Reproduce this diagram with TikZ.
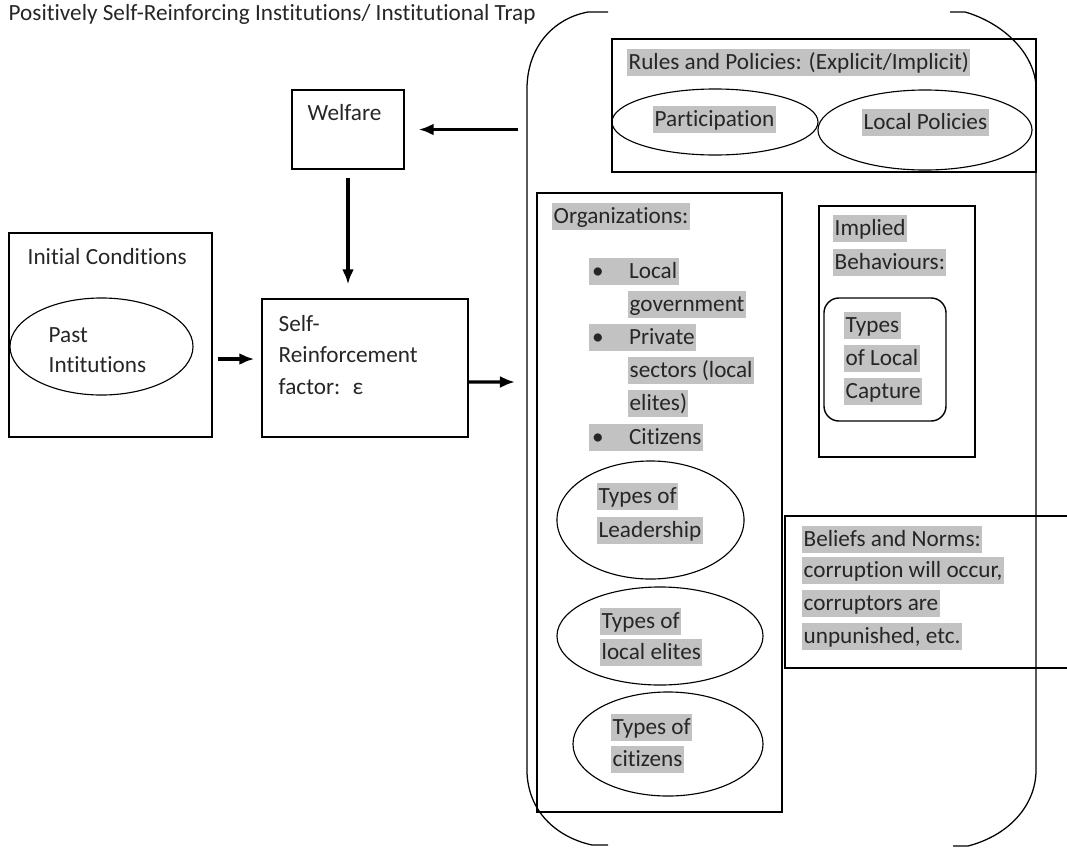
\documentclass[tikz,border=0pt]{standalone}
\usepackage{fontspec}
\setmainfont{Carlito}[Ligatures=NoCommon]
\usepackage{tikz}
\usepackage{xcolor}
\usetikzlibrary{shapes,arrows.meta,positioning,calc}

\definecolor{hlgray}{RGB}{194,194,194}
\definecolor{inkgray}{RGB}{38,38,38}

\begin{document}
\begin{tikzpicture}[
          x=0.025cm, y=-0.025cm,
          txt/.style={anchor=west, inner xsep=1pt, inner ysep=0pt, text height=14.9pt, text depth=4.3pt, text=inkgray, font=\fontsize{16.5pt}{19pt}\selectfont},
          hl/.style={txt, fill=hlgray},
          box/.style={rectangle, draw, line width=1pt, inner sep=0pt},
          oval/.style={ellipse, draw, line width=0.8pt, inner sep=0pt},
          arr/.style={-{Latex[length=0.375cm, width=0.3cm]}, line width=2.2pt}
        ]
          \useasboundingbox (0,0) rectangle (1067,850);

          \node[txt] (title) at (7,13.5) {Positively Self-Reinforcing Institutions/ Institutional Trap};

          % left side
          \node[box, minimum width=2.8cm, minimum height=1.975cm] (welfare) at (348,129.5) {};
          \node[txt] (welfT) at (306,113) {Welfare};
          \node[box, minimum width=5.075cm, minimum height=5.1cm] (init) at (110.5,335) {};
          \node[txt] (initT) at (26,257.5) {Initial Conditions};
          \node[oval, minimum width=4.575cm, minimum height=2.425cm] (past) at (101.5,346.5) {};
          \node[txt] (pastT1) at (47,335) {Past};
          \node[txt] (pastT2) at (47,365.5) {Intitutions};
          \node[box, minimum width=5.15cm, minimum height=3.45cm] (selfrf) at (365,368) {};
          \node[txt] (selfT1) at (277,324) {Self-};
          \node[txt] (selfT2) at (277,355.5) {Reinforcement};
          \node[txt] (selfT3) at (277,387.5) {factor: \ ε};

          % rules and policies
          \node[box, minimum width=10.6cm, minimum height=3.325cm] (rules) at (824,105.5) {};
          \node[hl] (rulesT) at (627,62.5) {Rules and Policies: (Explicit/Implicit)};
          \node[oval, minimum width=5.15cm, minimum height=1.65cm] (partic) at (715,122) {};
          \node[hl] (particT) at (653,119) {Participation};
          \node[oval, minimum width=5.35cm, minimum height=2cm] (locpol) at (925,130) {};
          \node[hl] (locpolT) at (862,122) {Local Policies};

          % organizations
          \node[box, minimum width=6.125cm, minimum height=15.475cm] (orgs) at (659.5,502.5) {};
          \node[hl] (orgT) at (552,216.5) {Organizations:};
          \node[hl] (orgB1) at (589,271.5) {\makebox[0.96cm][l]{\hspace{1pt}•}Local};
          \node[hl] (orgB1b) at (628,304.5) {government};
          \node[hl] (orgB2) at (589,337.5) {\makebox[0.96cm][l]{\hspace{1pt}•}Private};
          \node[hl] (orgB2b) at (628,370) {sectors (local};
          \node[hl] (orgB2c) at (628,403.5) {elites)};
          \node[hl] (orgB3) at (589,437) {\makebox[0.96cm][l]{\hspace{1pt}•}Citizens};
          \node[oval, minimum width=4.675cm, minimum height=2.95cm] (lead) at (650.5,520) {};
          \node[hl] (leadT1) at (597,496.5) {Types of};
          \node[hl] (leadT2) at (597,530) {Leadership};
          \node[oval, minimum width=5.15cm, minimum height=2.45cm] (elites) at (660,636) {};
          \node[hl] (elitT1) at (600,621.5) {Types of};
          \node[hl] (elitT2) at (600,652) {local elites};
          \node[oval, minimum width=4.75cm, minimum height=2.6cm] (citz) at (668,744) {};
          \node[hl] (citzT1) at (611,727) {Types of};
          \node[hl] (citzT2) at (611,759.5) {citizens};

          % implied behaviours
          \node[box, minimum width=3.9cm, minimum height=6.275cm] (implied) at (897,331.5) {};
          \node[hl] (implT1) at (833,228.5) {Implied};
          \node[hl] (implT2) at (833,262) {Behaviours:};
          \node[box, rounded corners=0.375cm, minimum width=3.05cm, minimum height=3.075cm] (capture) at (885,359.5) {};
          \node[hl] (capT1) at (844,325.5) {Types};
          \node[hl] (capT2) at (844,358.5) {of Local};
          \node[hl] (capT3) at (844,391) {Capture};

          % beliefs and norms
          \node[box, minimum width=7.125cm, minimum height=3.8cm] (beliefs) at (927.5,592) {};
          \node[hl] (belT1) at (802,539.5) {Beliefs and Norms:};
          \node[hl] (belT2) at (802,570.5) {corruption will occur,};
          \node[hl] (belT3) at (802,603.5) {corruptors are};
          \node[hl] (belT4) at (802,636.5) {unpunished, etc.};

          % brackets round the trap
          \draw[line width=0.9pt] (608,12) -- (588,12) .. controls (555,18) and (528,45) .. (527,87)
            -- (527,773) .. controls (529,815) and (560,838) .. (592,845) -- (608,845);
          \draw[line width=0.9pt] (950,12) -- (965,12) .. controls (1000,22) and (1033,50) .. (1036,85)
            -- (1036,772) .. controls (1035,805) and (1010,835) .. (968,846) -- (953,846);
          \coordinate (trapTop) at (527,129.5);
          \coordinate (trapIn) at (527,382);

          % arrows
          \draw[arr, shorten <=0.225cm, shorten >=0.35cm] (trapTop) -- (welfare.east);
          \draw[arr, shorten <=0.2cm, shorten >=0.35cm] (welfare.south) -- (welfare.south |- selfrf.north);
          \draw[arr, shorten <=0.125cm, shorten >=0.175cm] ([yshift=-0.6cm]init.east) -- ([yshift=-0.6cm]init.east -| selfrf.west);
          \draw[arr, shorten >=0.3cm] ([yshift=-0.35cm]selfrf.east) -- (trapIn);

        \end{tikzpicture}
\end{document}
